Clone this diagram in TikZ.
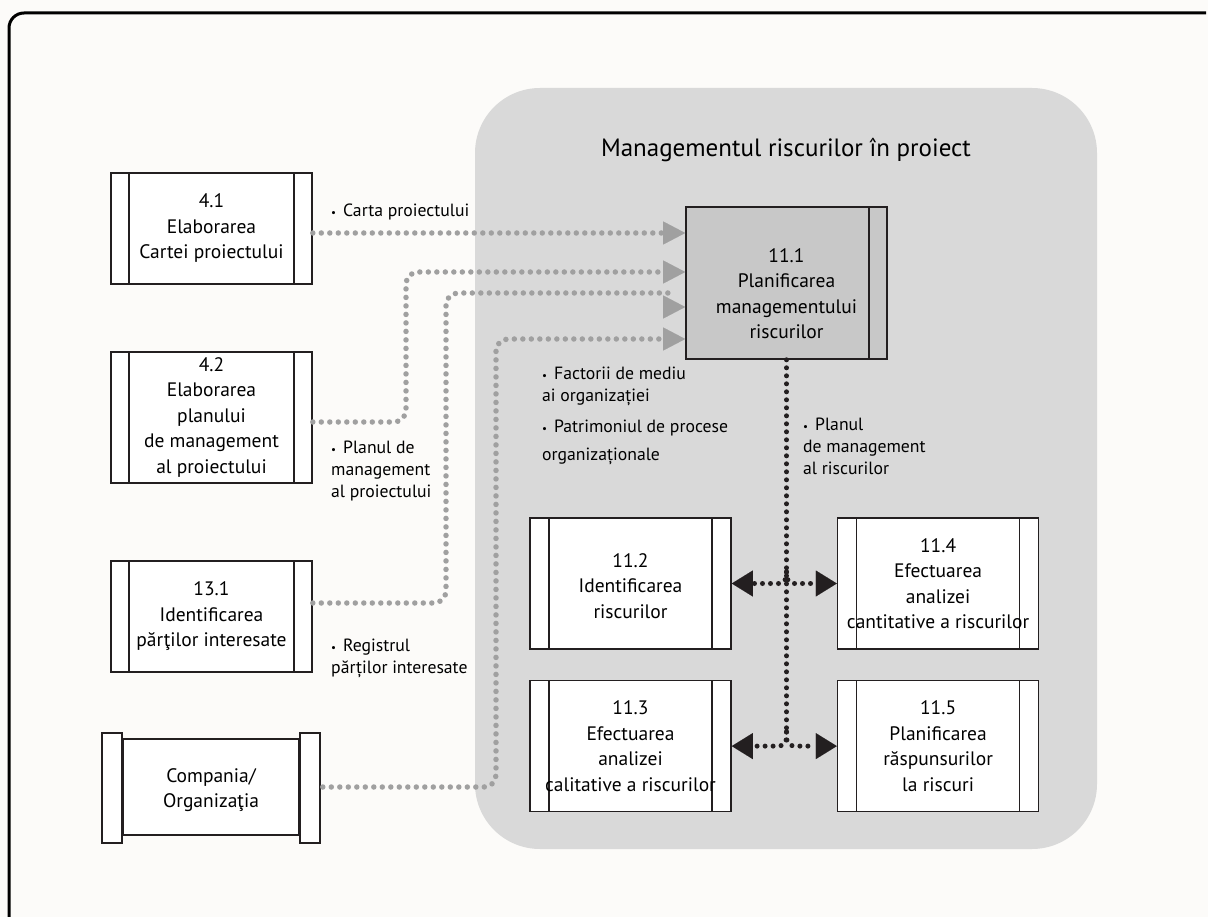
\documentclass[tikz,border=0pt]{standalone}
\usepackage{fontspec}
\setmainfont{PT Sans}
\usepackage{tikz}
\usetikzlibrary{arrows.meta,positioning,calc}
\definecolor{paperwhite}{RGB}{252,251,249}
\definecolor{areagray}{RGB}{217,217,217}
\definecolor{mainfill}{RGB}{200,200,200}
\definecolor{dotgray}{RGB}{160,160,160}
\definecolor{inkblack}{RGB}{35,31,32}
\newcommand{\bul}{{\fontsize{11}{11}\selectfont\textbullet}\hspace{7pt}}
\newcommand{\topgap}[1]{\rule{0pt}{#1}}

\tikzset{
  procbox/.style={draw=inkblack, line width=1.6pt, fill=white, inner sep=0pt,
    align=center, minimum width=201pt, minimum height=#1, text=black,
    font=\fontsize{19.5}{25.5}\selectfont},
  sidebars/.style={path picture={
      \draw[inkblack, line width=1.6pt]
        ([xshift=#1]path picture bounding box.north west) -- ([xshift=#1]path picture bounding box.south west)
        ([xshift=-#1]path picture bounding box.north east) -- ([xshift=-#1]path picture bounding box.south east);}},
  rightbar/.style={path picture={
      \draw[inkblack, line width=1.6pt]
        ([xshift=-#1]path picture bounding box.north east) -- ([xshift=-#1]path picture bounding box.south east);}},
  lbl/.style={inner sep=0pt, align=left, text=black, font=\fontsize{17.7}{22}\selectfont},
  inarrow/.style={draw=dotgray, line width=5.5pt, line cap=round, dash pattern=on 0pt off 8.5pt,
    rounded corners=12pt, -{Triangle[length=22pt, width=23pt, line width=0.01pt]}},
  loosetip/.style={draw=dotgray, line width=0.01pt, -{Triangle[length=22pt, width=23pt, line width=0.01pt]}},
  outarrow/.style={draw=inkblack, line width=5pt, line cap=round, dash pattern=on 0pt off 8pt,
    rounded corners=8pt, -{Triangle[length=21pt, width=26pt, line width=0.01pt]}}
}

\begin{document}
\begin{tikzpicture}[x=1pt, y=-1pt]
    % Page and frame
    \useasboundingbox (0,0) rectangle (1208,917);
    \fill[paperwhite] (0,0) rectangle (1208,917);
    \draw[black, line width=3pt] (9,917) -- (9,28) arc[start angle=180, end angle=270, radius=15] -- (1206,13);

    % Risk management area
    \fill[areagray, rounded corners=65pt] (475,88) rectangle (1097,849);
    \node[inner sep=0pt, anchor=base, text=black, font=\fontsize{25}{30}\selectfont] (title) at (786,157)
        {Managementul riscurilor în proiect};

    % Left column
    \node[procbox=111pt, sidebars=18pt] (p41) at (211.5,228.5) {4.1\\Elaborarea\\Cartei proiectului};
    \node[procbox=131pt, sidebars=18pt] (p42) at (211.5,417.5) {4.2\\Elaborarea\\planului\\de management\\al proiectului};
    \node[procbox=111pt, sidebars=18pt] (p131) at (211.5,616.5) {13.1\\Identificarea\\părţilor interesate};
    \node[procbox=96pt, minimum width=176pt] (comp) at (211,787) {\topgap{20pt}Compania/\\Organizaţia};
    \draw[inkblack, line width=1.6pt, fill=white] ($(comp.north west)+(-20,-5)$) rectangle ($(comp.south west)+(0,7)$);
    \draw[inkblack, line width=1.6pt, fill=white] ($(comp.north east)+(0,-5)$) rectangle ($(comp.south east)+(20,7)$);

    % Processes 11.x
    \node[procbox=152pt, fill=mainfill, rightbar=18pt] (p111) at (786.5,283)
        {\topgap{35pt}11.1\\Planificarea\\managementului\\riscurilor};
    \node[procbox=131pt, sidebars=19pt] (p112) at (630.5,583.5) {\topgap{19pt}11.2\\Identificarea\\riscurilor};
    \node[procbox=131pt, sidebars=19pt, right=105pt of p112] (p114) {11.4\\Efectuarea\\analizei\\cantitative a riscurilor};
    \node[procbox=131pt, sidebars=19pt, below=30pt of p112] (p113) {11.3\\Efectuarea\\analizei\\calitative a riscurilor};
    \node[procbox=131pt, sidebars=19pt, below=30pt of p114] (p115) {11.5\\Planificarea\\răspunsurilor\\la riscuri};

    % Inputs
    \draw[inarrow] ([yshift=-4.5pt]p41.east) -- ([yshift=-4.5pt]p41.east -| p111.west);
    \draw[inarrow] ([yshift=-4.5pt]p42.east) -| (406,272) -- ($(p111.west)+(0,-11)$);
    \draw[inarrow, -] ([yshift=13.5pt]p131.east) -| (446,293) -- (670,293);
    \draw[loosetip] ($(p111.west)+(-22,24)$) -- ($(p111.west)+(0,24)$);
    \draw[inarrow] ([xshift=23pt]comp.east) -| (496,339) -- ($(p111.west)+(0,56)$);

    % Outputs
    \draw[outarrow, -] (p111.south) -- (p111.south |- 0,732);
    \foreach \j/\a/\b in {572/p112/p114, 732/p113/p115} {
        \draw[outarrow] (p111.south |- 0,\j) |- (\a.east);
        \draw[outarrow] (p111.south |- 0,\j) |- (\b.west);
    }

    % Labels (anchored on the last line)
    \node[lbl, anchor=base west] (lcarta) at (331,217) {\bul Carta proiectului};
    \node[lbl, anchor=base west] (lplan) at (331,497) {\bul Planul de\\management\\al proiectului};
    \node[lbl, anchor=base west] (lreg) at (331,673) {\bul Registrul\\părților interesate};
    \node[lbl, anchor=base west] (lfact) at (542,402) {\bul Factorii de mediu\\ai organizației};
    \node[lbl, anchor=base west, font=\fontsize{17.7}{28}\selectfont] (lpatr) at (542,460) {\bul Patrimoniul de procese\\organizaționale};
    \node[lbl, anchor=base west] (lrisk) at (803,474) {\bul Planul\\de management\\al riscurilor};
\end{tikzpicture}
\end{document}
